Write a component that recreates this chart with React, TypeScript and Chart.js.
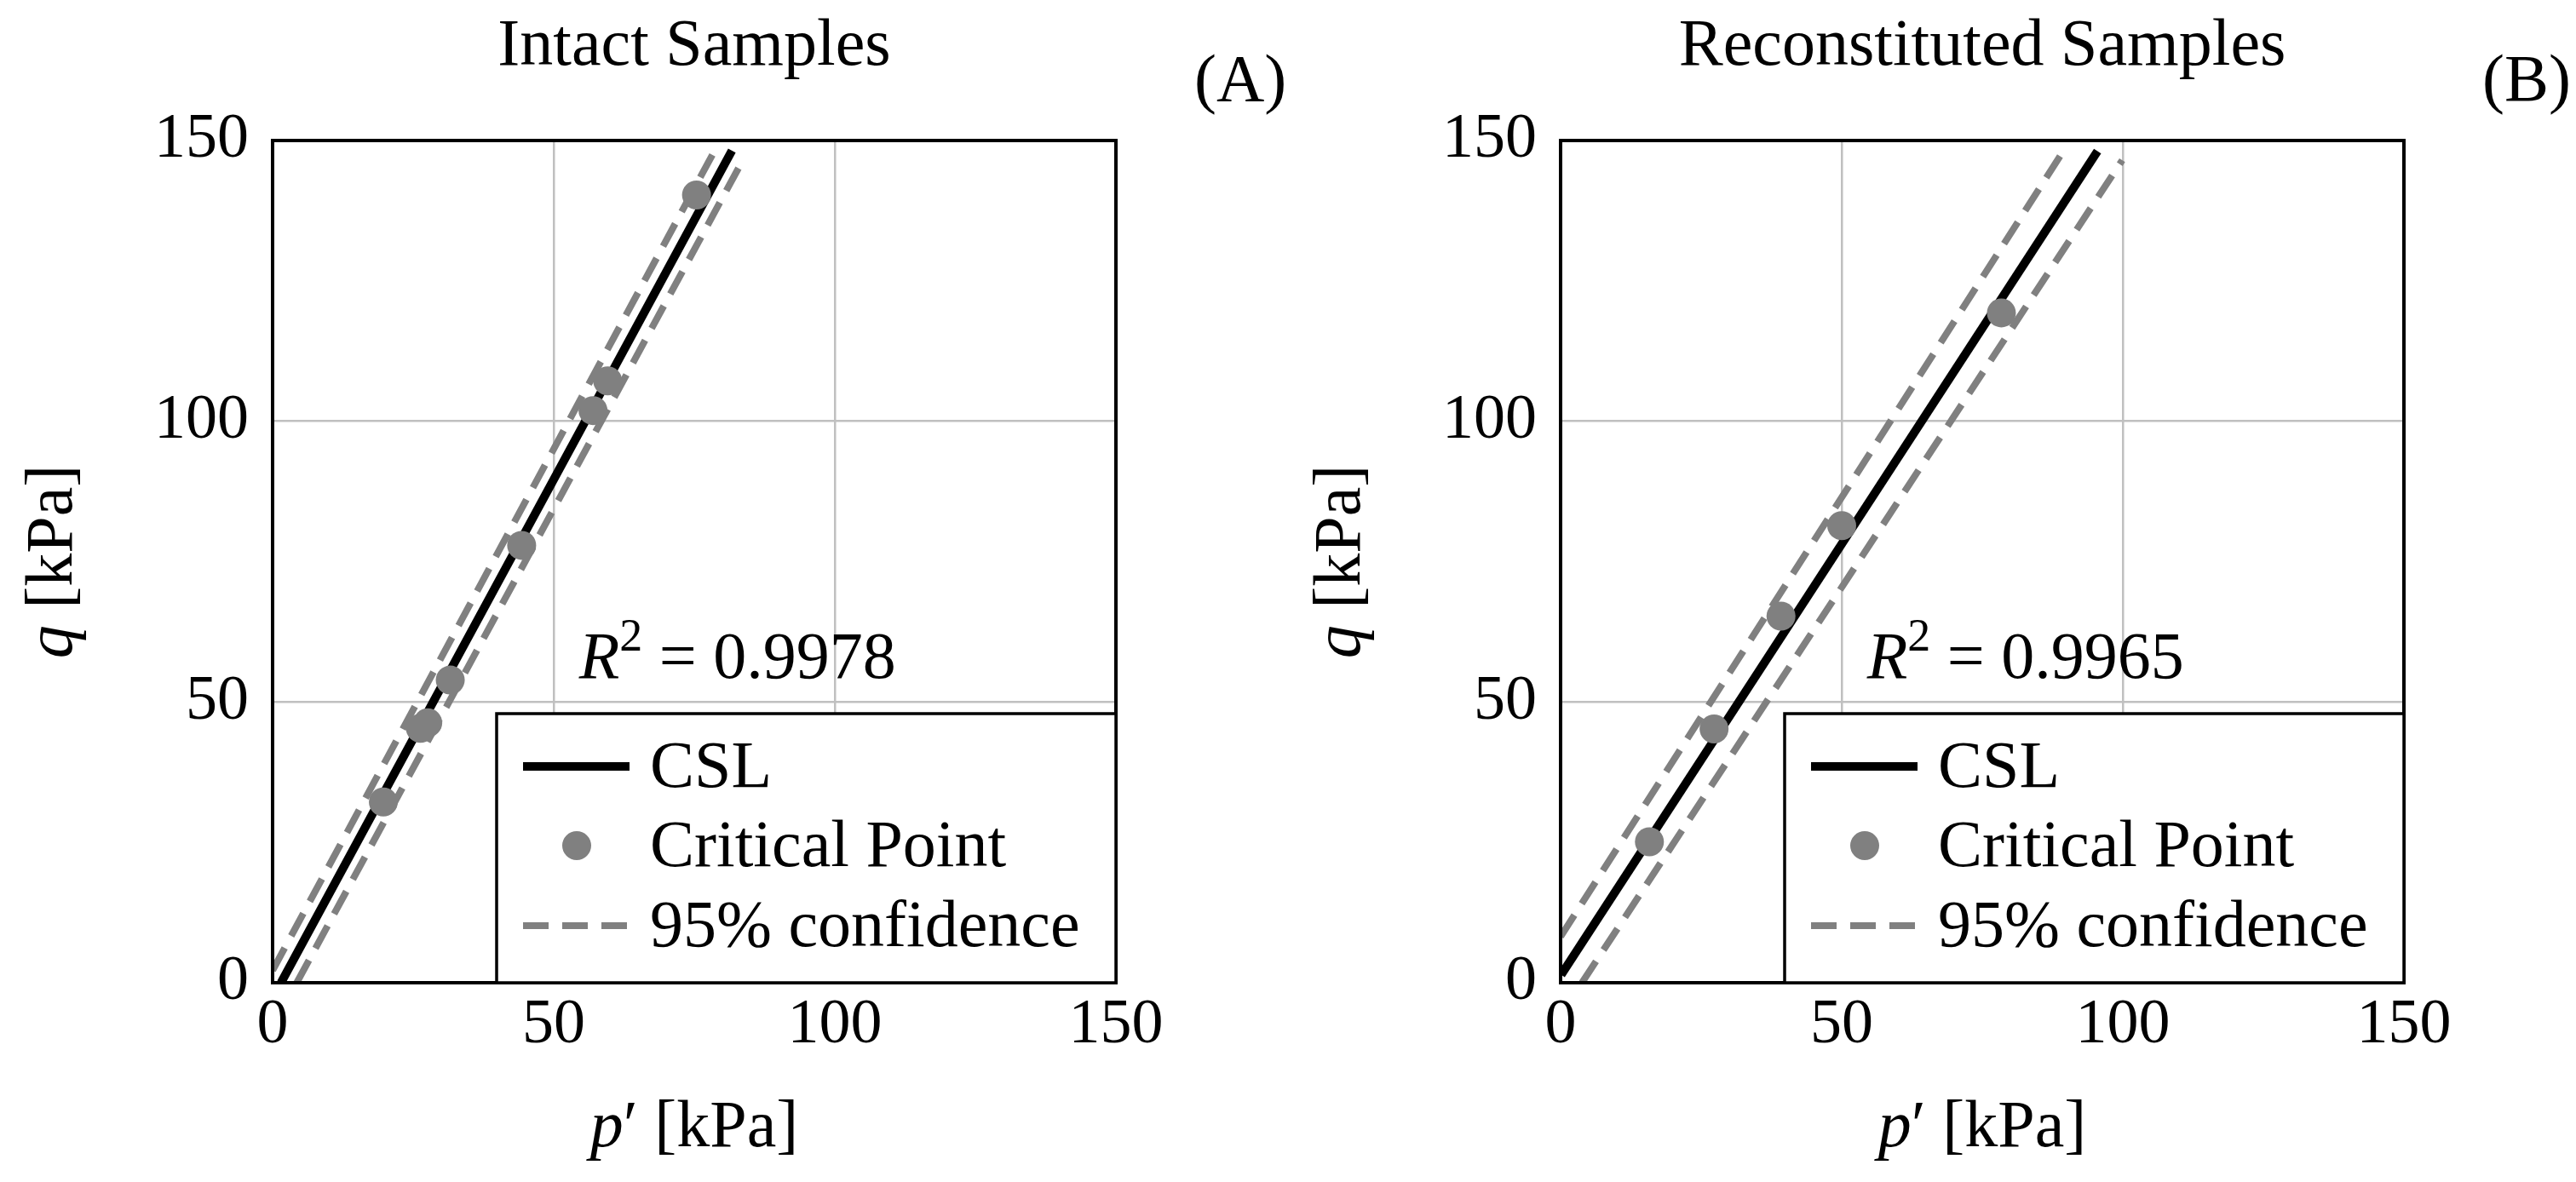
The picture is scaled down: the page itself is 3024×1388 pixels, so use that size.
import { useEffect, useRef } from "react";
import { Chart, registerables } from "chart.js";

Chart.register(...registerables);

// Intact samples: critical state points and fitted lines, p' and q in kPa
const intactP = [19.7, 26.3, 27.6, 31.6, 44.3, 57.0, 59.6, 75.4];
const intactQ = [32.2, 45.3, 46.3, 53.9, 77.9, 101.9, 107.2, 140.3];
const intactCslP = [1.5, 81.7];
const intactCslQ = [0, 148.2];
const intactUpperP = [0, 78.3];
const intactUpperQ = [2.2, 147.6];
const intactLowerP = [4.3, 83.8];
const intactLowerQ = [0, 146.8];

// Reconstituted samples
const reconP = [15.8, 27.3, 39.2, 50.0, 78.4];
const reconQ = [25.1, 45.2, 65.3, 81.4, 119.3];
const reconCslP = [0.1, 95.5];
const reconCslQ = [1.4, 148.1];
const reconUpperP = [0, 89.6];
const reconUpperQ = [8.2, 148.4];
const reconLowerP = [3.8, 99.9];
const reconLowerQ = [0, 146.5];

const axisTicks = [0, 50, 100, 150];
const legendLabels = ["CSL", "Critical Point", "95% confidence"];

const SERIF = '"Liberation Serif", "Times New Roman", serif';
const TEXT = `78px ${SERIF}`;
const ITALIC = `italic 78px ${SERIF}`;
const SUP = `54px ${SERIF}`;
const GRAY = "#808080";
const DASH = [30, 16];

type Run = { text: string; font: string; dy?: number };

const drawRuns = (
  ctx: CanvasRenderingContext2D,
  runs: Run[],
  x: number,
  y: number,
  center: boolean
) => {
  const widths = runs.map((r) => {
    ctx.font = r.font;
    return ctx.measureText(r.text).width;
  });
  const total = widths.reduce((a, b) => a + b, 0);
  let cx = center ? x - total / 2 : x;
  ctx.textAlign = "left";
  runs.forEach((r, i) => {
    ctx.font = r.font;
    ctx.fillText(r.text, cx, y + (r.dy ?? 0));
    cx += widths[i];
  });
};

const zip = (xs: number[], ys: number[]) => xs.map((x, i) => ({ x, y: ys[i] }));

interface PanelProps {
  title: string;
  tag: string;
  r2: string;
  p: number[];
  q: number[];
  cslP: number[];
  cslQ: number[];
  upperP: number[];
  upperQ: number[];
  lowerP: number[];
  lowerQ: number[];
}

const Panel = (props: PanelProps) => {
  const canvasRef = useRef<HTMLCanvasElement | null>(null);

  useEffect(() => {
    if (!canvasRef.current) return;

    const decorations = {
      id: "decorations",
      afterDatasetsDraw(chart: Chart) {
        const ctx = chart.ctx;
        const area = chart.chartArea;
        const xs = chart.scales.x;
        const ys = chart.scales.y;
        ctx.save();
        ctx.fillStyle = "#000";
        ctx.textBaseline = "alphabetic";

        // R^2 label
        drawRuns(
          ctx,
          [
            { text: "R", font: ITALIC },
            { text: "2", font: SUP, dy: -32 },
            { text: " = " + props.r2, font: TEXT },
          ],
          xs.getPixelForValue(54.5),
          ys.getPixelForValue(54.3),
          false
        );

        // frame
        ctx.strokeStyle = "#000";
        ctx.lineWidth = 4;
        ctx.strokeRect(area.left, area.top, area.right - area.left, area.bottom - area.top);

        // legend
        const lw = 727;
        const lh = 316;
        const lx = area.right - lw;
        const ly = area.bottom - lh;
        ctx.fillStyle = "#fff";
        ctx.fillRect(lx, ly, lw, lh);
        ctx.lineWidth = 3.5;
        ctx.strokeRect(lx, ly, lw, lh);

        const rows = [ly + 62, ly + 155, ly + 249];
        ctx.lineCap = "butt";
        ctx.strokeStyle = "#000";
        ctx.lineWidth = 10;
        ctx.beginPath();
        ctx.moveTo(lx + 31, rows[0]);
        ctx.lineTo(lx + 156, rows[0]);
        ctx.stroke();

        ctx.fillStyle = GRAY;
        ctx.beginPath();
        ctx.arc(lx + 94, rows[1], 17, 0, Math.PI * 2);
        ctx.fill();

        ctx.strokeStyle = GRAY;
        ctx.lineWidth = 8;
        ctx.setLineDash(DASH);
        ctx.beginPath();
        ctx.moveTo(lx + 31, rows[2]);
        ctx.lineTo(lx + 156, rows[2]);
        ctx.stroke();
        ctx.setLineDash([]);

        ctx.fillStyle = "#000";
        ctx.font = TEXT;
        ctx.textAlign = "left";
        legendLabels.forEach((label, i) => {
          ctx.fillText(label, lx + 180, rows[i] + 24);
        });

        // titles
        const midX = (area.left + area.right) / 2;
        ctx.textAlign = "center";
        ctx.fillText(props.title, midX, 76);
        ctx.textAlign = "left";
        ctx.fillText(props.tag, 1402, 118);

        drawRuns(
          ctx,
          [
            { text: "p", font: ITALIC },
            { text: "\u2032", font: TEXT },
            { text: " [kPa]", font: TEXT },
          ],
          midX,
          1346,
          true
        );

        ctx.translate(84, (area.top + area.bottom) / 2);
        ctx.rotate(-Math.PI / 2);
        drawRuns(
          ctx,
          [
            { text: "q", font: ITALIC },
            { text: " [kPa]", font: TEXT },
          ],
          0,
          0,
          true
        );
        ctx.restore();
      },
    };

    const chart = new Chart(canvasRef.current, {
      type: "scatter",
      data: {
        datasets: [
          {
            label: legendLabels[1],
            data: zip(props.p, props.q),
            backgroundColor: GRAY,
            borderWidth: 0,
            pointRadius: 17,
            order: 0,
          },
          {
            label: legendLabels[0],
            data: zip(props.cslP, props.cslQ),
            showLine: true,
            borderColor: "#000",
            borderWidth: 10,
            pointRadius: 0,
            order: 1,
          },
          {
            label: legendLabels[2],
            data: zip(props.upperP, props.upperQ),
            showLine: true,
            borderColor: GRAY,
            borderWidth: 8,
            borderDash: DASH,
            pointRadius: 0,
            order: 2,
          },
          {
            label: legendLabels[2],
            data: zip(props.lowerP, props.lowerQ),
            showLine: true,
            borderColor: GRAY,
            borderWidth: 8,
            borderDash: DASH,
            pointRadius: 0,
            order: 2,
          },
        ],
      },
      options: {
        animation: false,
        responsive: false,
        events: [],
        layout: { padding: { left: 0, top: 165, right: 202, bottom: 0 } },
        plugins: { legend: { display: false }, tooltip: { enabled: false } },
        scales: {
          x: {
            type: "linear",
            min: 0,
            max: 150,
            afterFit: (scale) => {
              scale.height = 234;
            },
            afterBuildTicks: (scale) => {
              scale.ticks = axisTicks.map((v) => ({ value: v }));
            },
            border: { display: false },
            grid: { color: "#c0c0c0", lineWidth: 2.5, drawTicks: false },
            ticks: { color: "#000", font: { family: SERIF, size: 74 }, padding: 6, maxRotation: 0 },
          },
          y: {
            type: "linear",
            min: 0,
            max: 150,
            afterFit: (scale) => {
              scale.width = 320;
            },
            afterBuildTicks: (scale) => {
              scale.ticks = axisTicks.map((v) => ({ value: v }));
            },
            border: { display: false },
            grid: { color: "#c0c0c0", lineWidth: 2.5, drawTicks: false },
            ticks: { color: "#000", font: { family: SERIF, size: 74 }, padding: 28 },
          },
        },
      },
      plugins: [decorations],
    });

    return () => {
      chart.destroy();
    };
  }, []);

  return <canvas ref={canvasRef} width={1512} height={1388} style={{ width: 1512, height: 1388 }} />;
};

export default function App() {
  return (
    <div
      style={{
        position: "fixed",
        left: 0,
        top: 0,
        width: 3024,
        height: 1388,
        display: "flex",
        background: "#fff",
      }}
    >
      <Panel
        title="Intact Samples"
        tag="(A)"
        r2="0.9978"
        p={intactP}
        q={intactQ}
        cslP={intactCslP}
        cslQ={intactCslQ}
        upperP={intactUpperP}
        upperQ={intactUpperQ}
        lowerP={intactLowerP}
        lowerQ={intactLowerQ}
      />
      <Panel
        title="Reconstituted Samples"
        tag="(B)"
        r2="0.9965"
        p={reconP}
        q={reconQ}
        cslP={reconCslP}
        cslQ={reconCslQ}
        upperP={reconUpperP}
        upperQ={reconUpperQ}
        lowerP={reconLowerP}
        lowerQ={reconLowerQ}
      />
    </div>
  );
}
